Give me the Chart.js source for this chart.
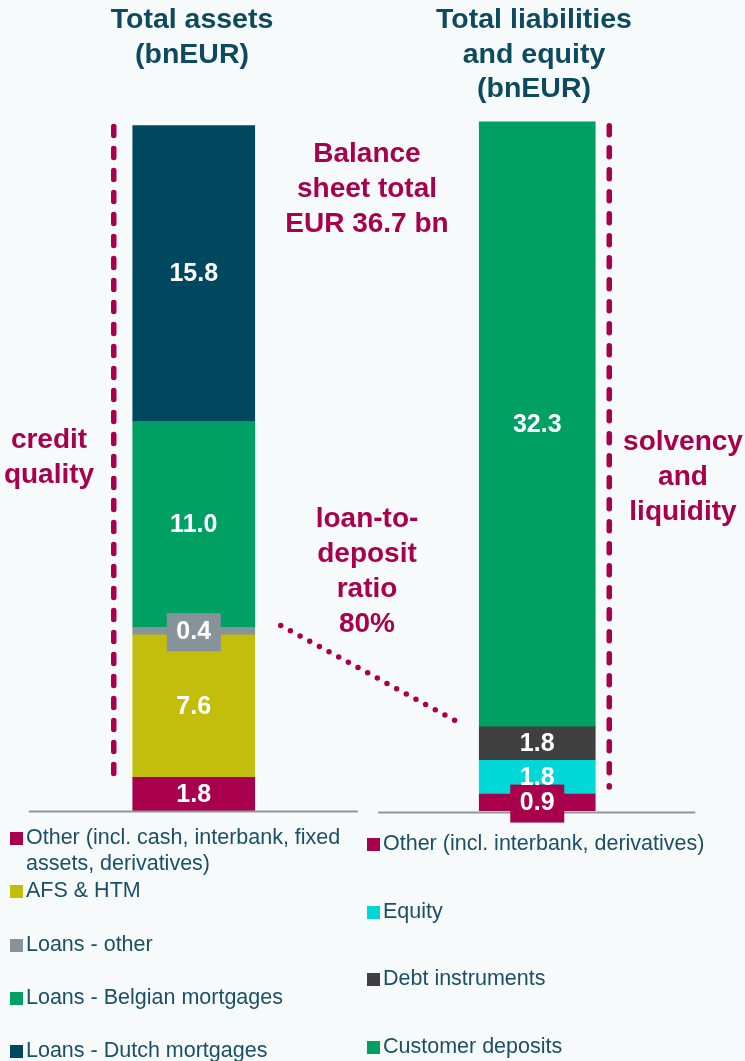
<!DOCTYPE html>
<html>
<head>
<meta charset="utf-8">
<script src="https://cdn.jsdelivr.net/npm/chart.js@4"></script>
<style>
  body { margin: 0; background: #f7fafa; font-family: "Liberation Sans", Arial, sans-serif; }
  #wrap { position: relative; width: 745px; height: 1061px; overflow: hidden; }
  canvas { position: absolute; left: 0; top: 0; }
  .txt { position: absolute; text-align: center; font-weight: bold; font-size: 28px; line-height: 35px; white-space: nowrap; }
  .title { color: #0d4a5f; font-size: 28.5px; line-height: 34.5px; }
  .note { color: #a8004c; }
  .leg { position: absolute; display: flex; align-items: flex-start; font-size: 21.5px; line-height: 26px; color: #1b4f66; }
  .leg span.sq { flex: none; width: 13px; height: 13px; margin: 8px 3px 0 0; }
</style>
</head>
<body>
<div id="wrap">
  <canvas id="myChart" width="745" height="1061"></canvas>

  <div class="txt title" style="left:42px; top:1px; width:300px;">Total assets<br>(bnEUR)</div>
  <div class="txt title" style="left:384px; top:1px; width:300px;">Total liabilities<br>and equity<br>(bnEUR)</div>

  <div class="txt note" style="left:217px; top:135px; width:300px;">Balance<br>sheet total<br>EUR 36.7 bn</div>
  <div class="txt note" style="left:217px; top:500px; width:300px;">loan-to-<br>deposit<br>ratio<br>80%</div>
  <div class="txt note" style="left:-51px; top:421px; width:200px;">credit<br>quality</div>
  <div class="txt note" style="left:583px; top:423px; width:200px;">solvency<br>and<br>liquidity</div>
</div>

<script>
// categories
var categories = ['Total assets', 'Total liabilities and equity'];

// assets, bottom to top
var assetLabels = ['Other (incl. cash, interbank, fixed assets, derivatives)', 'AFS & HTM', 'Loans - other', 'Loans - Belgian mortgages', 'Loans - Dutch mortgages'];
var assetValues = [1.8, 7.6, 0.4, 11.0, 15.8];
var assetColors = ['#a8004c', '#c3be0b', '#87939a', '#00a064', '#00485f'];

// liabilities and equity, bottom to top
var liabLabels = ['Other (incl. interbank, derivatives)', 'Equity', 'Debt instruments', 'Customer deposits'];
var liabValues = [0.9, 1.8, 1.8, 32.3];
var liabColors = ['#a8004c', '#00d8d8', '#404040', '#00a064'];

var datasets = [];
assetValues.forEach(function (v, i) {
  datasets.push({ label: assetLabels[i], data: [v, null], backgroundColor: assetColors[i], barThickness: 122 });
});
liabValues.forEach(function (v, i) {
  datasets.push({ label: liabLabels[i], data: [null, v], backgroundColor: liabColors[i], barThickness: 116 });
});

function sum(a) { return a.reduce(function (s, v) { return s + v; }, 0); }

// baselines, dashed brackets and the dotted link
var decorations = {
  id: 'decorations',
  afterDatasetsDraw: function (chart) {
    var ctx = chart.ctx;
    var xs = chart.scales.x, ys = chart.scales.y;
    var cL = xs.getPixelForValue(0), cR = xs.getPixelForValue(1);
    var base = ys.getPixelForValue(0);
    ctx.save();

    // axis lines
    ctx.strokeStyle = '#8c979e';
    ctx.lineWidth = 2;
    ctx.beginPath();
    ctx.moveTo(cL - 165, base + 0.5); ctx.lineTo(cL + 164, base + 0.5);
    ctx.moveTo(cR - 159, base + 1.5); ctx.lineTo(cR + 158, base + 1.5);
    ctx.stroke();

    // dashed brackets
    ctx.strokeStyle = '#a8004c';
    ctx.lineWidth = 5.5;
    ctx.lineCap = 'round';
    ctx.setLineDash([9, 13]);
    ctx.beginPath();
    ctx.moveTo(cL - 80, ys.getPixelForValue(sum(assetValues)) + 1);
    ctx.lineTo(cL - 80, base - 26);
    ctx.moveTo(cR + 72, ys.getPixelForValue(sum(liabValues)) + 4);
    ctx.lineTo(cR + 72, base - 24);
    ctx.stroke();

    // dotted line loans -> deposits
    var yLoans = ys.getPixelForValue(sum(assetValues.slice(0, 3)));
    var yDeps = ys.getPixelForValue(sum(liabValues.slice(0, 3)));
    ctx.lineWidth = 5.5;
    ctx.setLineDash([0, 11]);
    ctx.beginPath();
    ctx.moveTo(cL + 87, yLoans - 2);
    ctx.lineTo(cR - 80, yDeps - 5);
    ctx.stroke();
    ctx.restore();
  }
};

// labels inside the bars, small segments get a coloured box
var barLabels = {
  id: 'barLabels',
  afterDatasetsDraw: function (chart) {
    var ctx = chart.ctx;
    ctx.save();
    ctx.font = 'bold 25px "Liberation Sans", Arial';
    ctx.textAlign = 'center';
    ctx.textBaseline = 'middle';
    chart.data.datasets.forEach(function (ds, di) {
      chart.getDatasetMeta(di).data.forEach(function (el, j) {
        var v = ds.data[j];
        if (v === null) return;
        var p = el.getProps(['x', 'y', 'base'], true);
        var cy = (p.y + p.base) / 2;
        if (Math.abs(p.base - p.y) < 24) {
          ctx.fillStyle = ds.backgroundColor;
          ctx.fillRect(p.x - 27, cy - 18, 54, 38);
        }
        ctx.fillStyle = '#ffffff';
        ctx.fillText(v.toFixed(1), p.x, cy + 1);
      });
    });
    ctx.restore();
  }
};

var ctx = document.getElementById('myChart');
var myChart = new Chart(ctx, {
  type: 'bar',
  data: { labels: categories, datasets: datasets },
  options: {
    responsive: false,
    animation: false,
    layout: { padding: { left: 22, right: 36, top: 118, bottom: 250 } },
    plugins: { legend: { display: false }, tooltip: { enabled: false } },
    scales: {
      x: { stacked: true, display: false },
      y: { stacked: true, display: false, min: 0, max: 37 }
    }
  },
  plugins: [decorations, barLabels]
});

// legends under each bar, same order as the stacks bottom-up
function addLegend(labels, colors, left, firstTop, step, width) {
  var wrap = document.getElementById('wrap');
  labels.forEach(function (lab, i) {
    var d = document.createElement('div');
    d.className = 'leg';
    d.style.left = left + 'px';
    d.style.top = (firstTop + i * step) + 'px';
    d.style.width = width + 'px';
    var sq = document.createElement('span');
    sq.className = 'sq';
    sq.style.background = colors[i];
    var t = document.createElement('span');
    t.textContent = lab;
    d.appendChild(sq);
    d.appendChild(t);
    wrap.appendChild(d);
  });
}
addLegend(assetLabels, assetColors, 10, 824, 53.3, 345);
addLegend(liabLabels, liabColors, 367, 830, 67.7, 375);
</script>
</body>
</html>
